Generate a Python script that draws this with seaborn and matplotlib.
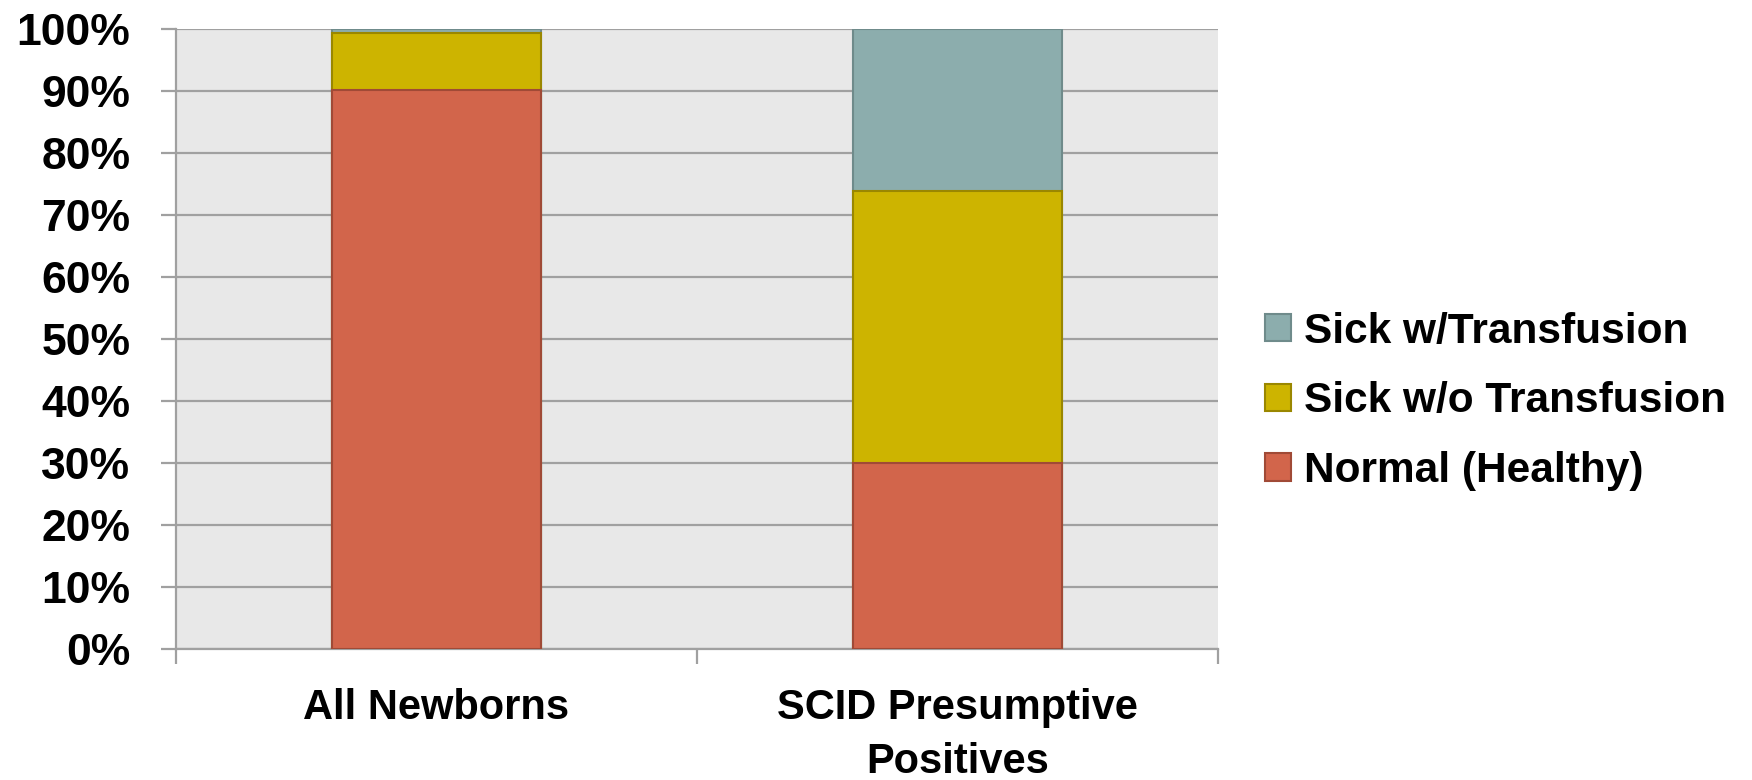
import matplotlib
matplotlib.use("Agg")
import matplotlib.pyplot as plt
from matplotlib.patches import Patch
from matplotlib.ticker import FixedLocator, PercentFormatter
import numpy as np
import pandas as pd
import seaborn as sns

# Outcome shares (%) per screening group
groups = ["All Newborns", "SCID Presumptive\nPositives"]
normal_healthy = [90.2, 30.0]
sick_without_transfusion = [9.2, 43.8]
sick_with_transfusion = [0.6, 26.2]

series_names = ["Normal (Healthy)", "Sick w/o Transfusion", "Sick w/Transfusion"]
fill_colors = ["#D2654B", "#CDB400", "#8CADAD"]
edge_colors = ["#A04A36", "#9A8700", "#6F8B8B"]

sns.set_theme(style="white")
plt.rcParams["font.family"] = ["Liberation Sans", "DejaVu Sans"]
plt.rcParams["font.weight"] = "bold"
plt.rcParams["text.color"] = "black"

fig = plt.figure(figsize=(17.52, 7.8), dpi=100)
ax = fig.add_axes([0.1005, 0.168, 0.5947, 0.7948])
ax.set_facecolor("#E8E8E8")

# stacked bars: draw cumulative totals from the top segment down
layers = np.array([normal_healthy, sick_without_transfusion, sick_with_transfusion])
cumulative = np.cumsum(layers, axis=0)
for i in reversed(range(len(series_names))):
    df = pd.DataFrame({"group": groups, "value": cumulative[i]})
    sns.barplot(data=df, x="group", y="value", color=fill_colors[i],
                saturation=1, width=0.40, edgecolor=edge_colors[i],
                linewidth=1.5, ax=ax, zorder=3)

ax.set_xlim(-0.5, 1.5)
ax.set_ylim(0, 100)
ax.yaxis.set_major_locator(FixedLocator(np.arange(0, 101, 10)))
ax.yaxis.set_major_formatter(PercentFormatter(decimals=0))
ax.grid(axis="y", color="#A0A0A0", linewidth=1.6, zorder=1)
ax.set_axisbelow(True)
ax.set_xlabel("")
ax.set_ylabel("")

for side in ["top", "right"]:
    ax.spines[side].set_visible(False)
for side in ["left", "bottom"]:
    ax.spines[side].set_color("#A0A0A0")
    ax.spines[side].set_linewidth(1.6)

ax.tick_params(axis="y", length=11, width=1.6, color="#A0A0A0", pad=22,
               labelsize=32, labelcolor="black", left=True)
ax.set_xticks([0, 1])
ax.set_xticklabels(groups, fontsize=30, fontweight="bold", linespacing=1.45)
ax.tick_params(axis="x", which="major", length=0, pad=28, labelcolor="black")
ax.xaxis.set_minor_locator(FixedLocator([-0.5, 0.5, 1.5]))
ax.tick_params(axis="x", which="minor", length=11, width=1.6, color="#A0A0A0",
               bottom=True)
for lab in ax.get_yticklabels():
    lab.set_fontweight("bold")

handles = [Patch(facecolor=fill_colors[i], edgecolor=edge_colors[i], linewidth=1.5,
                 label=series_names[i]) for i in reversed(range(3))]
fig.legend(handles=handles, loc="center left", bbox_to_anchor=(0.722, 0.4857),
           frameon=False, handlelength=0.62, handleheight=0.62,
           handletextpad=0.3, labelspacing=0.7, borderpad=0, borderaxespad=0,
           labelcolor="black", prop={"weight": "bold", "size": 30.5})

fig.savefig("out.png", dpi=100)
